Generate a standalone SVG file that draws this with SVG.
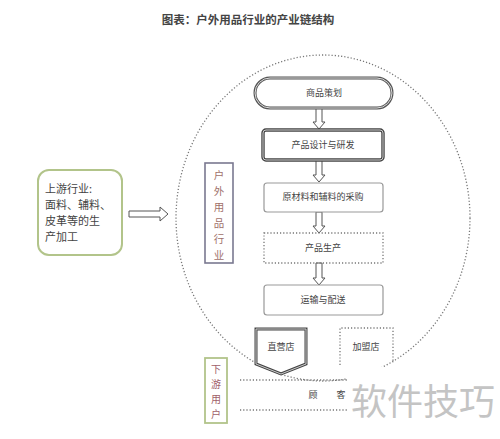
<svg xmlns="http://www.w3.org/2000/svg" width="500" height="439" viewBox="0 0 500 439">
<style>
.t{font-family:"Noto Sans CJK SC","Liberation Sans",sans-serif;fill:#444;}
.c{text-anchor:middle;font-size:9px;}
.v{font-family:"Noto Sans CJK SC","Liberation Sans",sans-serif;font-size:10.5px;fill:#a0706a;text-anchor:middle;}
.vd{font-family:"Noto Sans CJK SC","Liberation Sans",sans-serif;font-size:10px;fill:#a0606a;text-anchor:middle;}
.dot{fill:none;stroke:#777;stroke-width:1.3;stroke-dasharray:1.2 2;}
.arr{fill:#fff;stroke:#555;stroke-width:1;}
</style>
<rect width="500" height="439" fill="#fff"/>
<text class="t" x="248" y="24" text-anchor="middle" font-size="11.5" font-weight="bold" fill="#222">图表：户外用品行业的产业链结构</text>

<g id="connectors">
<ellipse class="dot" cx="323" cy="218" rx="147" ry="163"/>
<path class="arr" d="M129,211 H160 V207 L168,214 L160,221 V217 H129 Z"/>
<path class="arr" d="M316,108 H322 V122 H325 L319,129 L313,122 H316 Z"/>
<path class="arr" d="M316,160 H322 V175 H325 L319,182 L313,175 H316 Z"/>
<path class="arr" d="M316,212 H322 V226 H325 L319,233 L313,226 H316 Z"/>
<path class="arr" d="M316,263 H322 V278 H325 L319,285 L313,278 H316 Z"/>
<line class="dot" x1="240" y1="380" x2="350" y2="380"/>
<line class="dot" x1="240" y1="410" x2="350" y2="410"/>
</g>

<g id="upstream">
<rect x="38" y="170" width="84" height="85" rx="11" fill="#fff" stroke="#b2c48a" stroke-width="2"/>
<text class="t" x="45" y="193" font-size="11" fill="#c86464">上游行业:</text>
<text class="t" x="45" y="209" font-size="11">面料、辅料、</text>
<text class="t" x="45" y="225" font-size="11">皮革等的生</text>
<text class="t" x="45" y="241" font-size="11">产加工</text>
</g>

<g id="industry">
<rect x="205" y="163" width="28" height="100" fill="#fff" stroke="#7a7890" stroke-width="1.6"/>
<text class="v" x="219" y="179">户</text>
<text class="v" x="219" y="195">外</text>
<text class="v" x="219" y="211">用</text>
<text class="v" x="219" y="227">品</text>
<text class="v" x="219" y="243">行</text>
<text class="v" x="219" y="259">业</text>
</g>

<g id="n1">
<rect x="255" y="78" width="137" height="30" rx="15" fill="#fff" stroke="#555" stroke-width="3"/>
<rect x="255" y="78" width="137" height="30" rx="15" fill="none" stroke="#ddd" stroke-width="1"/>
<text class="t c" x="324" y="96">商品策划</text>
</g>
<g id="n2">
<rect x="263" y="130" width="120" height="30" rx="3" fill="#fff" stroke="#444" stroke-width="3.4"/>
<rect x="263" y="130" width="120" height="30" rx="3" fill="none" stroke="#ccc" stroke-width="1"/>
<text class="t c" x="323" y="148">产品设计与研发</text>
</g>
<g id="n3">
<rect x="264" y="183" width="119" height="29" rx="3" fill="#fff" stroke="#999" stroke-width="1.2"/>
<text class="t c" x="323" y="200">原材料和辅料的采购</text>
</g>
<g id="n4">
<rect class="dot" x="264" y="233" width="119" height="30"/>
<text class="t c" x="323" y="251">产品生产</text>
</g>
<g id="n5">
<rect x="264" y="285" width="119" height="30" rx="3" fill="#fff" stroke="#999" stroke-width="1.2"/>
<text class="t c" x="323" y="303">运输与配送</text>
</g>

<g id="direct">
<path d="M256,329 H306 V364 L281,374 L256,364 Z" fill="#fff" stroke="#444" stroke-width="3"/>
<path d="M256,329 H306 V364 L281,374 L256,364 Z" fill="none" stroke="#ccc" stroke-width="1"/>
<text class="t c" x="281" y="350">直营店</text>
</g>
<g id="franchise">
<path class="dot" d="M340,365 V328 H393 V363"/>
<text class="t c" x="366" y="350">加盟店</text>
</g>

<g id="downstream">
<rect x="205" y="358" width="22" height="65" fill="#fff" stroke="#b2c48a" stroke-width="1.8"/>
<text class="vd" x="216" y="373">下</text>
<text class="vd" x="216" y="388">游</text>
<text class="vd" x="216" y="403">用</text>
<text class="vd" x="216" y="418">户</text>
</g>

<g id="customer">
<text class="t" x="313" y="398" font-size="9" text-anchor="middle">顾</text>
<text class="t" x="341" y="398" font-size="9" text-anchor="middle">客</text>
</g>

<rect x="347" y="367" width="153" height="72" fill="#fff"/>
<text x="423" y="415" font-family="Noto Sans CJK SC, sans-serif" font-size="36" fill="#c4c4c4" text-anchor="middle">软件技巧</text>
</svg>
